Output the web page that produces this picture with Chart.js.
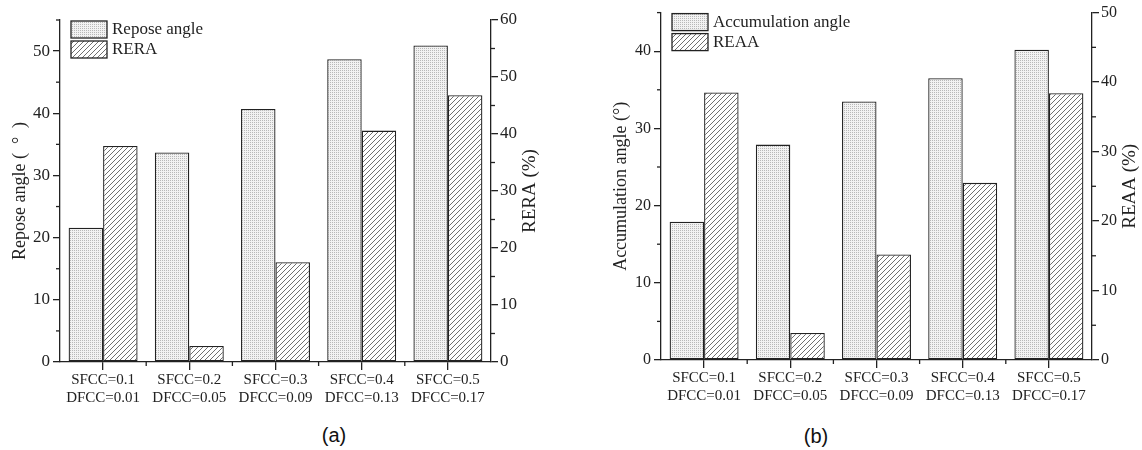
<!DOCTYPE html>
<html>
<head>
<meta charset="utf-8">
<script src="https://cdn.jsdelivr.net/npm/chart.js@4"></script>
<style>
body { margin: 0; background: #fff; width: 1142px; height: 450px; position: relative; overflow: hidden; }
.box { position: absolute; top: 0; height: 410px; }
.cap { position: absolute; font-family: "Liberation Sans", Arial, sans-serif; font-size: 20px; color: #111; transform: translate(-50%, -50%); }
</style>
</head>
<body>
<div class="box" style="left:0;width:545px"><canvas id="chartA"></canvas></div>
<div class="box" style="left:600px;width:542px"><canvas id="chartB"></canvas></div>
<div class="cap" style="left:334px;top:435px">(a)</div>
<div class="cap" style="left:816px;top:436px">(b)</div>
<script>
// datos
const categories = [
    ['SFCC=0.1', 'DFCC=0.01'],
    ['SFCC=0.2', 'DFCC=0.05'],
    ['SFCC=0.3', 'DFCC=0.09'],
    ['SFCC=0.4', 'DFCC=0.13'],
    ['SFCC=0.5', 'DFCC=0.17']
];
const reposeAngle = [21.6, 33.7, 40.7, 48.7, 50.9];
const rera = [37.9, 2.8, 17.5, 40.6, 46.8];
const accumulationAngle = [17.9, 27.9, 33.5, 36.5, 40.2];
const reaa = [38.5, 3.9, 15.2, 25.5, 38.4];

const serif = '"Liberation Serif", "Times New Roman", serif';
const ink = '#222';

// tramas de relleno
function dotPattern() {
    const c = document.createElement('canvas');
    c.width = 2; c.height = 2;
    const g = c.getContext('2d');
    g.fillStyle = '#f2f2f2';
    g.fillRect(0, 0, 2, 2);
    g.fillStyle = '#b8b8b8';
    g.fillRect(0, 0, 1, 1);
    return g.createPattern(c, 'repeat');
}

function hatchPattern() {
    const c = document.createElement('canvas');
    c.width = 5; c.height = 5;
    const g = c.getContext('2d');
    g.fillStyle = '#fff';
    g.fillRect(0, 0, 5, 5);
    g.fillStyle = '#707070';
    for (let i = 0; i < 5; i++) g.fillRect(i, 4 - i, 1, 1);
    return g.createPattern(c, 'repeat');
}

// leyenda dentro del area del grafico
const boxLegend = {
    id: 'boxLegend',
    afterDraw(chart) {
        const { ctx, chartArea } = chart;
        ctx.save();
        chart.data.datasets.forEach((ds, i) => {
            const x = chartArea.left + 11;
            const y = chartArea.top + 1 + i * 20;
            ctx.fillStyle = ds.backgroundColor;
            ctx.fillRect(x, y, 36, 17);
            ctx.strokeStyle = ink;
            ctx.lineWidth = 1.3;
            ctx.strokeRect(x, y, 36, 17);
            ctx.fillStyle = ink;
            ctx.font = '17px ' + serif;
            ctx.textBaseline = 'middle';
            ctx.fillText(ds.label, x + 41, y + 9);
        });
        ctx.restore();
    }
};

// titulo del eje derecho, leido de abajo hacia arriba
const rightTitle = {
    id: 'rightTitle',
    afterDraw(chart, args, opts) {
        const s = chart.scales.y1;
        const ctx = chart.ctx;
        ctx.save();
        ctx.translate(s.right - opts.offset, (s.top + s.bottom) / 2);
        ctx.rotate(-Math.PI / 2);
        ctx.fillStyle = ink;
        ctx.font = opts.size + 'px ' + serif;
        ctx.textAlign = 'center';
        ctx.textBaseline = 'middle';
        ctx.fillText(opts.text, 0, 0);
        ctx.restore();
    }
};

// marcas menores
const minorTicks = {
    id: 'minorTicks',
    afterDraw(chart) {
        const ctx = chart.ctx;
        ctx.save();
        ctx.strokeStyle = ink;
        ctx.lineWidth = 1.3;
        ['y', 'y1'].forEach(id => {
            const s = chart.scales[id];
            const left = s.position === 'left';
            const x0 = left ? s.right : s.left;
            for (let v = 5; v <= s.max + 0.001; v += 10) {
                const y = s.getPixelForValue(v);
                ctx.beginPath();
                ctx.moveTo(x0, y);
                ctx.lineTo(left ? x0 - 4 : x0 + 4, y);
                ctx.stroke();
            }
        });
        const sx = chart.scales.x;
        const half = (sx.getPixelForValue(1) - sx.getPixelForValue(0)) / 2;
        for (let i = 0; i < categories.length - 1; i++) {
            const x = sx.getPixelForValue(i) + half;
            ctx.beginPath();
            ctx.moveTo(x, sx.top);
            ctx.lineTo(x, sx.top + 4);
            ctx.stroke();
        }
        ctx.restore();
    }
};

function makeChart(id, p) {
    const majorColor = (c) => (c.tick && c.tick.value % 10 === 0) ? ink : 'rgba(0,0,0,0)';
    return new Chart(document.getElementById(id), {
        type: 'bar',
        data: {
            labels: categories,
            datasets: [{
                label: p.leftLabel,
                data: p.left,
                yAxisID: 'y',
                backgroundColor: dotPattern(),
                borderColor: ink,
                borderWidth: 1.3,
                borderSkipped: false
            }, {
                label: p.rightLabel,
                data: p.right,
                yAxisID: 'y1',
                backgroundColor: hatchPattern(),
                borderColor: ink,
                borderWidth: 1.3,
                borderSkipped: false
            }]
        },
        options: {
            responsive: true,
            maintainAspectRatio: false,
            animation: false,
            layout: { padding: { top: p.padTop, left: 0, right: 0, bottom: 0 } },
            datasets: { bar: { categoryPercentage: 0.8, barPercentage: 1 } },
            plugins: {
                legend: { display: false },
                tooltip: { enabled: false },
                rightTitle: { text: p.rightTitle, size: 19, offset: p.rightTitleOffset }
            },
            scales: {
                x: {
                    offset: true,
                    grid: { offset: false, drawOnChartArea: false, tickLength: 8, color: ink, lineWidth: 1.3 },
                    border: { color: ink, width: 1.3 },
                    ticks: { color: ink, font: { family: serif, size: 15, lineHeight: 1.2 }, padding: 1, maxRotation: 0, autoSkip: false },
                    afterFit: s => { s.height = 410 - p.bottom; }
                },
                y: {
                    position: 'left',
                    min: 0,
                    max: p.leftMax,
                    grid: { drawOnChartArea: false, tickLength: 7, tickColor: majorColor, lineWidth: 1.3 },
                    border: { color: ink, width: 1.3 },
                    ticks: { stepSize: 10, color: ink, font: { family: serif, size: p.tickSize }, padding: 3,
                        callback: v => v % 10 === 0 ? v : '' },
                    title: { display: true, text: p.leftTitle, color: ink, font: { family: serif, size: p.leftTitleSize, lineHeight: 1.2 }, padding: { top: p.leftTitlePad, bottom: 0 } },
                    afterFit: s => { s.width = p.leftWidth; }
                },
                y1: {
                    position: 'right',
                    min: 0,
                    max: p.rightMax,
                    grid: { drawOnChartArea: false, tickLength: 7, tickColor: majorColor, lineWidth: 1.3 },
                    border: { color: ink, width: 1.3 },
                    ticks: { stepSize: 10, color: ink, font: { family: serif, size: p.tickSize }, padding: 2,
                        callback: v => v % 10 === 0 ? v : '' },
                    afterFit: s => { s.width = p.rightWidth; }
                }
            }
        },
        plugins: [boxLegend, minorTicks, rightTitle]
    });
}

makeChart('chartA', {
    left: reposeAngle, right: rera,
    leftLabel: 'Repose angle', rightLabel: 'RERA',
    leftTitle: 'Repose angle (  °  )', rightTitle: 'RERA (%)',
    leftMax: 55, rightMax: 60,
    padTop: 20, bottom: 362,
    leftWidth: 60, rightWidth: 54,
    tickSize: 17, leftTitleSize: 18, leftTitlePad: 9, rightTitleOffset: 15
});

makeChart('chartB', {
    left: accumulationAngle, right: reaa,
    leftLabel: 'Accumulation angle', rightLabel: 'REAA',
    leftTitle: 'Accumulation angle (°)', rightTitle: 'REAA (%)',
    leftMax: 45, rightMax: 50,
    padTop: 12, bottom: 360,
    leftWidth: 61, rightWidth: 50,
    tickSize: 16, leftTitleSize: 18, leftTitlePad: 10, rightTitleOffset: 12
});
</script>
</body>
</html>
